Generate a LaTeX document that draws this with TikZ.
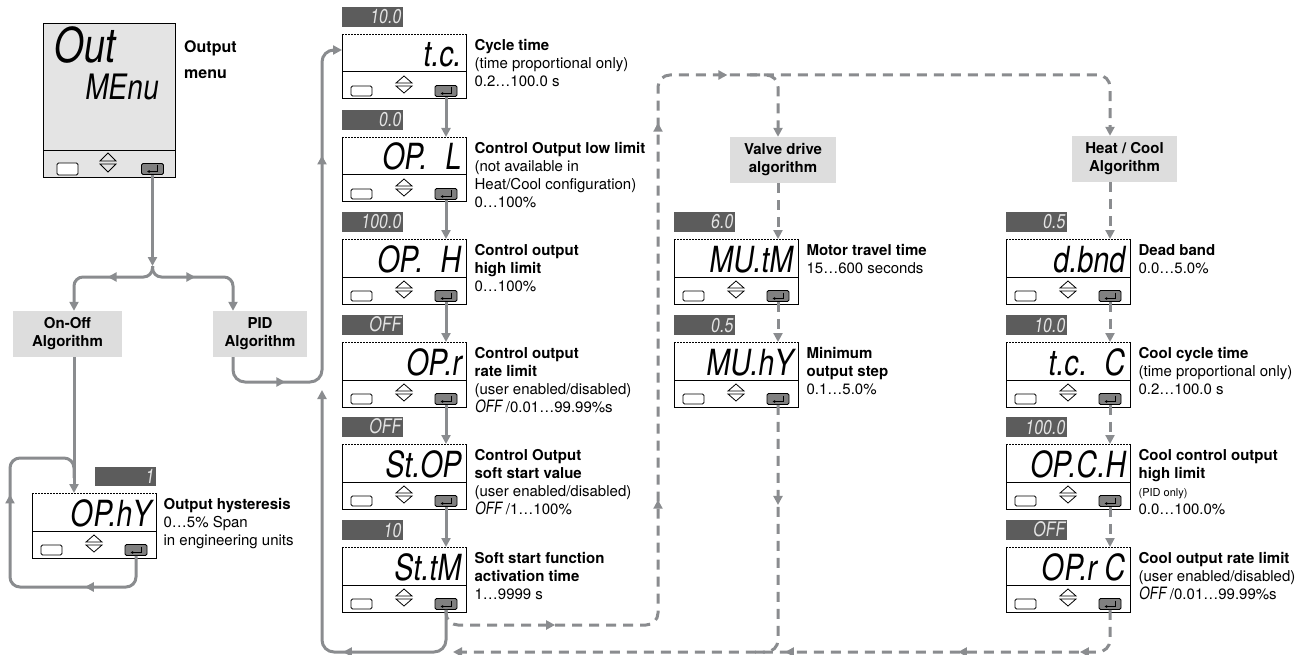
\documentclass[tikz,border=0pt]{standalone}
\usepackage{fontspec}
\setmainfont{TeX Gyre Heros}
\newfontfamily\segfont{TeX Gyre Heros}[FakeSlant=0.15,FakeStretch=0.8]
\usetikzlibrary{arrows.meta, positioning, decorations.markings}

\definecolor{linegray}{RGB}{138,140,143}
\definecolor{valgray}{RGB}{92,92,92}
\definecolor{valtext}{RGB}{228,228,228}
\definecolor{algfill}{RGB}{221,221,221}
\definecolor{menufill}{RGB}{228,228,228}
\definecolor{keygray}{RGB}{128,128,128}

\tikzset{
  lcd/.style={fill=white, minimum width=124pt, minimum height=65pt, inner sep=0pt},
  reading/.style={anchor=base east, inner sep=0pt, font=\segfont\fontsize{36}{36}\selectfont},
  valbox/.style={fill=valgray, text=valtext, anchor=south west, minimum width=61pt, minimum height=19pt, text width=56pt, align=right, inner sep=2.5pt, font=\segfont\fontsize{20}{20}\selectfont},
  keybox/.style={draw, line width=0.8pt, fill=white, rounded corners=1.5pt},
  enterkey/.style={draw, line width=0.9pt, fill=keygray, rounded corners=1.5pt, minimum width=22pt, minimum height=11pt, inner sep=0pt},
  lbl/.style={align=left, inner sep=0pt, font=\fontsize{15}{18}\selectfont},
  alg/.style={fill=algfill, align=center, inner sep=0pt, minimum height=46pt, font=\bfseries\fontsize{15}{18}\selectfont},
  flow/.style={color=linegray, line width=3pt, ->},
  dflow/.style={flow, dash pattern=on 10pt off 7pt},
  link/.style={color=linegray, line width=3pt},
  dlink/.style={link, dash pattern=on 10pt off 7pt},
  arrowat/.style={postaction={decorate, decoration={markings, mark=at position #1 with {\arrow{Triangle[length=9pt,width=9pt]}}}}}
}

% display panel: name, top left corner, reading, value, value box x
\newcommand{\panel}[5]{%
  \node[lcd, anchor=north west] (#1) at (#2) {};
  \begin{scope}[shift={(#1.north west)}]
    \draw[line width=1pt] (0,0) -- (0,65) -- (124,65) -- (124,0);
    \draw[line width=0.8pt, dash pattern=on 1.5pt off 1.5pt] (0,0) -- (124,0);
    \draw[line width=1pt] (0,38) -- (124,38);
    \node[reading] at (119,33) {#3};
    \draw[keybox] (9,52) rectangle (30,62);
    \draw[line width=0.8pt] (54,49) -- (62,42) -- (70,49) -- cycle (54,52) -- (62,59) -- (70,52) -- cycle;
    \node[enterkey] (#1-e) at (104,57) {};
    \draw[line width=0.9pt, -{Latex[length=2.5pt,width=3pt]}] (109,53.5) -- (109,59.5) -- (98.5,59.5);
    \node[valbox] (#1-v) at (#5,-7) {#4};
  \end{scope}}
\newcommand{\segoff}{{\segfont\fontsize{17}{18}\selectfont OFF}}

\begin{document}
\begin{tikzpicture}[x=1pt, y=-1pt, >={Triangle[length=9pt,width=9pt]}]
\useasboundingbox (0,0) rectangle (1306,655);

% menu display
\node[lcd, fill=menufill, draw, line width=1pt, minimum width=132pt, minimum height=154pt, anchor=north west] (menu) at (43,23) {};
\begin{scope}[shift={(menu.north west)}]
  \draw[line width=1pt] (0,128) -- (132,128);
  \node[reading, anchor=base west, font=\segfont\fontsize{48}{48}\selectfont] at (9,40) {Out};
  \node[reading, font=\segfont\fontsize{35}{35}\selectfont] at (115,77) {MEnu};
  \draw[keybox] (14,140) rectangle (35,152);
  \draw[line width=0.8pt] (57,138) -- (65,130) -- (73,138) -- cycle (57,141) -- (65,149) -- (73,141) -- cycle;
  \node[enterkey] (menu-e) at (109.5,146) {};
  \draw[line width=0.9pt, -{Latex[length=2.5pt,width=3pt]}] (114.5,142.5) -- (114.5,148.5) -- (104,148.5);
\end{scope}
\node[lbl, font=\bfseries\fontsize{16}{18}\selectfont, below right=17pt and 8pt of menu.north east] {Output\\[8pt]menu};

% algorithm boxes
\node[alg, minimum width=109pt] (onoff) at (67.5,334) {On-Off\\Algorithm};
\node[alg, minimum width=94pt] (pid) at (260,334) {PID\\Algorithm};
\node[alg, minimum width=106pt] (valve) at (783,160) {Valve drive\\algorithm};
\node[alg, minimum width=105pt] (hcool) at (1124.5,159) {Heat / Cool\\Algorithm};

% parameter displays
\panel{ophy}{32,493}{OP.hY}{1}{63}
\panel{tc}{342,34}{t.c.}{10.0}{0}
\panel{opl}{342,137}{OP.\hspace{18pt}L}{0.0}{0}
\panel{oph}{342,239}{OP.\hspace{18pt}H}{100.0}{0}
\panel{opr}{342,342}{OP.r}{OFF}{0}
\panel{stop}{342,444}{St.OP}{OFF}{0}
\panel{sttm}{342,547}{St.tM}{10}{0}
\panel{mutm}{674,239}{MU.tM}{6.0}{0}
\panel{muhy}{674,342}{MU.hY}{0.5}{0}
\panel{dbnd}{1006,239}{d.bnd}{0.5}{0}
\panel{tcc}{1006,342}{t.c.\hspace{18pt}C}{10.0}{0}
\panel{opch}{1006,444}{OP.C.H}{100.0}{0}
\panel{oprc}{1006,547}{OP.r C}{OFF}{0}

% descriptions
\node[lbl, below right=5pt and 7pt of ophy.north east] {\textbf{Output hysteresis}\\0…5\% Span\\in engineering units};
\node[lbl, below right=5pt and 8pt of tc.north east] {\textbf{Cycle time}\\(time proportional only)\\0.2…100.0 s};
\node[lbl, below right=5pt and 8pt of opl.north east] {\textbf{Control Output low limit}\\(not available in\\Heat/Cool configuration)\\0…100\%};
\node[lbl, below right=5pt and 8pt of oph.north east] {\textbf{Control output}\\\textbf{high limit}\\0…100\%};
\node[lbl, below right=5pt and 8pt of opr.north east] {\textbf{Control output}\\\textbf{rate limit}\\(user enabled/disabled)\\\segoff\ /0.01…99.99\%s};
\node[lbl, below right=5pt and 8pt of stop.north east] {\textbf{Control Output}\\\textbf{soft start value}\\(user enabled/disabled)\\\segoff\ /1…100\%};
\node[lbl, below right=5pt and 8pt of sttm.north east] {\textbf{Soft start function}\\\textbf{activation time}\\1…9999 s};
\node[lbl, below right=5pt and 8pt of mutm.north east] {\textbf{Motor travel time}\\15…600 seconds};
\node[lbl, below right=5pt and 8pt of muhy.north east] {\textbf{Minimum}\\\textbf{output step}\\0.1…5.0\%};
\node[lbl, below right=5pt and 8pt of dbnd.north east] {\textbf{Dead band}\\0.0…5.0\%};
\node[lbl, below right=5pt and 8pt of tcc.north east] {\textbf{Cool cycle time}\\(time proportional only)\\0.2…100.0 s};
\node[lbl, below right=5pt and 8pt of opch.north east] {\textbf{Cool control output}\\\textbf{high limit}\\{\fontsize{11}{18}\selectfont (PID only)}\\0.0…100.0\%};
\node[lbl, below right=5pt and 8pt of oprc.north east] {\textbf{Cool output rate limit}\\(user enabled/disabled)\\\segoff\ /0.01…99.99\%s};

% turning points
\coordinate (fork) at (152.5,266);
\coordinate (forkl) at (74,277);
\coordinate (forkr) at (233,277);
\coordinate (hybot) at (10,587);
\coordinate (hytop) at (10,458);
\coordinate (pidturn) at (322,382);
\coordinate (retcorner) at (322,652);
\coordinate (dashturn) at (658,625);
\coordinate (dashtop) at (658,75);
\coordinate (valvebranch) at (750,75);
\coordinate (botmerge) at (453,652);
\coordinate (muhymerge) at (755,652);

% solid flow
\draw[flow] (menu-e.south) -- (fork);
\draw[flow, rounded corners=9pt, arrowat=52pt] (fork) |- (forkl) -- (forkl |- onoff.north);
\draw[flow, rounded corners=9pt, arrowat=50pt] (fork) |- (forkr) -- (forkr |- pid.north);
\draw[flow] (forkl |- onoff.south) -- (forkl |- ophy.north);
\draw[link, rounded corners=10pt, arrowat=78pt, arrowat=241pt, arrowat=396pt] (ophy-e.south) |- (hybot) -- (hytop) -- (forkl |- hytop) -- ([yshift=-20pt]forkl |- hytop);
\draw[flow, rounded corners=12pt, arrowat=72pt, arrowat=330pt] (forkr |- pid.south) |- (pidturn) |- ([yshift=-16pt]tc.north west);
\draw[flow, rounded corners=12pt, arrowat=140pt] (sttm-e.south) |- (retcorner) -- ([yshift=-8pt]pidturn);
\foreach \a/\b in {tc/opl, opl/oph, oph/opr, opr/stop, stop/sttm}
  \draw[flow] (\a-e.south) -- (\a-e.south |- \b.north);

% dashed flow
\draw[dflow, rounded corners=12pt, arrowat=119pt, arrowat=342pt, arrowat=719pt, arrowat=831pt] (sttm-e.south) |- (dashturn) -- (dashtop) -| (dbnd-e |- hcool.north);
\draw[dflow, rounded corners=12pt] (valvebranch) -| (mutm-e |- valve.north);
\draw[dflow] (mutm-e |- valve.south) -- (mutm-e |- mutm.north);
\draw[dflow] (mutm-e.south) -- (mutm-e.south |- muhy.north);
\draw[dlink, rounded corners=12pt, arrowat=100pt] (muhy-e.south) |- (muhymerge);
\draw[dflow] (dbnd-e |- hcool.south) -- (dbnd-e |- dbnd.north);
\foreach \a/\b in {dbnd/tcc, tcc/opch, opch/oprc}
  \draw[dflow] (\a-e.south) -- (\a-e.south |- \b.north);
\draw[dflow, rounded corners=12pt, arrowat=67pt, arrowat=189pt, arrowat=362pt] (oprc-e.south) |- (botmerge);
\end{tikzpicture}
\end{document}
